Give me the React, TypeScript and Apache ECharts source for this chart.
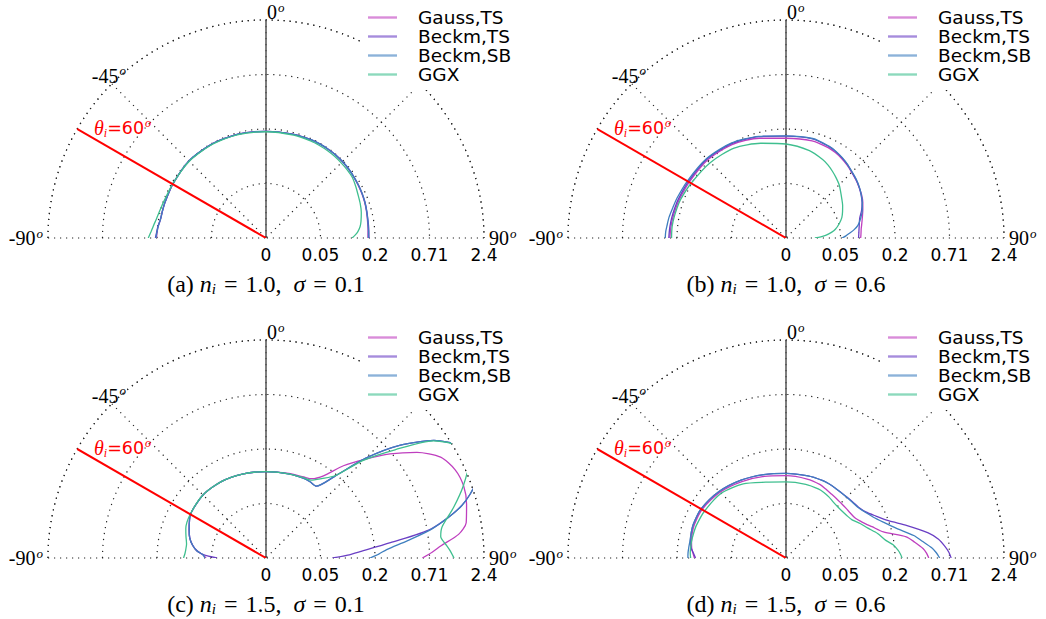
import React, { useEffect, useRef } from 'react';
import * as echarts from 'echarts';

// outgoing angle samples (degrees), shared by every panel
const ANGLES = [-90, -87, -84, -80, -75, -70, -60, -45, -30, -15, 0, 15, 25, 30, 35, 40, 45, 50, 55, 60, 65, 70, 75, 80, 83, 86, 88, 90];

const SERIES_NAMES = ['Gauss,TS', 'Beckm,TS', 'Beckm,SB', 'GGX'];
const COLORS = ['#bf3fbf', '#6a3fc4', '#3f7fbf', '#3fbf8f'];

// radial rings (plot units 0..4) and their labels
const RADIAL_TICKS = ['0', '0.05', '0.2', '0.71', '2.4'];
const INCIDENT_ANGLE = -60;
const INCIDENT_R = 4.62;

// radii, in ring units (ring k = RADIAL_TICKS[k])
// (a) n_i = 1.0, sigma = 0.1
const A_GAUSS = [2.01, 2.0, 1.99, 1.965, 1.962, 1.964, 1.975, 1.998, 1.99, 1.974, 1.955, 1.968, 1.982, 1.986, 1.987, 1.986, 1.98, 1.972, 1.96, 1.95, 1.938, 1.925, 1.908, 1.89, 1.882, 1.876, 1.872, 1.87];
const A_BECKM_TS = [2.03, 2.01, 1.995, 1.968, 1.965, 1.966, 1.976, 2.0, 1.99, 1.975, 1.957, 1.97, 1.985, 1.99, 1.99, 1.99, 1.985, 1.977, 1.965, 1.955, 1.945, 1.932, 1.915, 1.9, 1.895, 1.892, 1.89, 1.89];
const A_BECKM_SB = [2.02, 2.005, 1.99, 1.966, 1.964, 1.965, 1.976, 2.0, 1.99, 1.975, 1.957, 1.97, 1.985, 1.99, 1.99, 1.99, 1.985, 1.977, 1.965, 1.955, 1.944, 1.93, 1.912, 1.896, 1.889, 1.884, 1.881, 1.88];
const A_GGX = [2.16, 2.115, 2.08, 2.04, 2.01, 1.99, 1.98, 1.99, 1.98, 1.965, 1.95, 1.955, 1.96, 1.96, 1.96, 1.957, 1.95, 1.945, 1.935, 1.9, 1.865, 1.84, 1.81, 1.77, 1.74, 1.69, 1.64, 1.58];

// (b) n_i = 1.0, sigma = 0.6
const B_GAUSS = [2.13, 2.125, 2.12, 2.11, 2.095, 2.08, 2.05, 2.03, 1.98, 1.895, 1.83, 1.845, 1.83, 1.81, 1.78, 1.745, 1.705, 1.67, 1.635, 1.6, 1.555, 1.5, 1.45, 1.41, 1.39, 1.38, 1.375, 1.37];
const B_BECKM_TS = [2.15, 2.145, 2.14, 2.13, 2.115, 2.1, 2.07, 2.05, 2.0, 1.925, 1.87, 1.885, 1.855, 1.83, 1.795, 1.755, 1.71, 1.675, 1.635, 1.59, 1.54, 1.475, 1.4, 1.365, 1.35, 1.34, 1.335, 1.33];
const B_BECKM_SB = [2.216, 2.21, 2.195, 2.18, 2.15, 2.13, 2.09, 2.06, 2.01, 1.93, 1.875, 1.89, 1.86, 1.835, 1.8, 1.76, 1.715, 1.68, 1.64, 1.595, 1.545, 1.49, 1.42, 1.34, 1.26, 1.16, 1.1, 1.03];
const B_GGX = [2.1, 2.1, 2.1, 2.09, 2.075, 2.06, 2.01, 1.96, 1.905, 1.8, 1.725, 1.66, 1.59, 1.545, 1.49, 1.435, 1.38, 1.31, 1.25, 1.2, 1.145, 1.09, 1.01, 0.92, 0.84, 0.74, 0.64, 0.53];

// (c) n_i = 1.5, sigma = 0.1
const C_GAUSS = [1.1, 1.16, 1.28, 1.37, 1.45, 1.5, 1.6, 1.635, 1.625, 1.6, 1.585, 1.605, 1.64, 1.68, 1.84, 2.21, 2.56, 2.97, 3.38, 3.7, 3.83, 3.86, 3.81, 3.73, 3.56, 3.22, 3.05, 2.87];
const C_BECKM_TS = [0.9, 1.15, 1.27, 1.37, 1.45, 1.5, 1.6, 1.635, 1.625, 1.6, 1.585, 1.6, 1.615, 1.615, 1.61, 1.95, 2.59, 3.22, 3.76, 4.12, 4.23, 4.08, 3.72, 3.08, 2.3, 1.75, 1.5, 1.22];
const C_BECKM_SB = [1.12, 1.16, 1.28, 1.37, 1.45, 1.5, 1.6, 1.635, 1.625, 1.6, 1.585, 1.6, 1.615, 1.615, 1.61, 1.95, 2.59, 3.22, 3.76, 4.12, 4.23, 4.08, 3.72, 3.1, 2.62, 2.22, 2.07, 1.91];
const C_GGX = [1.513, 1.49, 1.48, 1.48, 1.52, 1.566, 1.605, 1.635, 1.625, 1.6, 1.585, 1.6, 1.625, 1.65, 1.78, 1.97, 2.54, 3.09, 3.75, 4.1, 4.1, 3.85, 3.56, 3.28, 3.23, 3.32, 3.39, 3.45];

// (d) n_i = 1.5, sigma = 0.6
const D_GAUSS = [1.68, 1.71, 1.74, 1.76, 1.78, 1.79, 1.78, 1.71, 1.62, 1.55, 1.51, 1.5, 1.485, 1.46, 1.44, 1.43, 1.425, 1.43, 1.44, 1.465, 1.55, 1.68, 1.85, 2.24, 2.38, 2.52, 2.58, 2.62];
const D_BECKM_TS = [1.66, 1.7, 1.75, 1.78, 1.8, 1.81, 1.8, 1.73, 1.65, 1.585, 1.553, 1.56, 1.572, 1.573, 1.57, 1.57, 1.58, 1.598, 1.625, 1.69, 1.82, 2.0, 2.3, 2.65, 2.82, 2.93, 2.99, 3.03];
const D_BECKM_SB = [1.8, 1.8, 1.795, 1.79, 1.8, 1.81, 1.8, 1.73, 1.65, 1.585, 1.553, 1.56, 1.572, 1.573, 1.57, 1.568, 1.575, 1.59, 1.615, 1.68, 1.77, 1.91, 2.1, 2.38, 2.52, 2.68, 2.76, 2.82];
const D_GGX = [1.75, 1.76, 1.76, 1.76, 1.755, 1.75, 1.725, 1.68, 1.57, 1.44, 1.396, 1.4, 1.4, 1.39, 1.37, 1.345, 1.335, 1.34, 1.36, 1.4, 1.5, 1.6, 1.74, 1.86, 1.98, 2.06, 2.1, 2.13];

const CAPTIONS = [
  { tag: 'a', n: '1.0', s: '0.1' },
  { tag: 'b', n: '1.0', s: '0.6' },
  { tag: 'c', n: '1.5', s: '0.1' },
  { tag: 'd', n: '1.5', s: '0.6' },
];

const R = 218;
const PANELS = [
  { cx: 266, cy: 238, values: [A_GAUSS, A_BECKM_TS, A_BECKM_SB, A_GGX] },
  { cx: 786, cy: 238, values: [B_GAUSS, B_BECKM_TS, B_BECKM_SB, B_GGX] },
  { cx: 266, cy: 558, values: [C_GAUSS, C_BECKM_TS, C_BECKM_SB, C_GGX] },
  { cx: 786, cy: 558, values: [D_GAUSS, D_BECKM_TS, D_BECKM_SB, D_GGX] },
];

const dotted = { color: '#222', width: 1.2, type: [1.2, 4.8] as number[] };

const SERIF = '"Liberation Serif", "DejaVu Serif", serif';
const SANS = '"DejaVu Sans", sans-serif';

function buildOption() {
  const series: any[] = [];
  const graphics: any[] = [];
  PANELS.forEach((p, i) => {
    // vertical 0-degree line
    series.push({
      type: 'line', coordinateSystem: 'polar', polarIndex: i,
      data: [[0, 0], [4, 0]], symbol: 'none', silent: true, clip: false,
      lineStyle: { color: '#555', width: 1.5 }, z: 2,
    });
    SERIES_NAMES.forEach((name, k) => {
      series.push({
        type: 'line', name, coordinateSystem: 'polar', polarIndex: i,
        data: ANGLES.map((a, j) => [p.values[k][j], a]),
        symbol: 'none', showSymbol: false, smooth: 0.25, clip: false,
        lineStyle: { color: COLORS[k], width: 1.3 },
        itemStyle: { color: COLORS[k] }, z: 3,
      });
    });
    // incident direction
    series.push({
      type: 'line', coordinateSystem: 'polar', polarIndex: i,
      data: [[0, INCIDENT_ANGLE], [INCIDENT_R, INCIDENT_ANGLE]], symbol: 'none', silent: true, clip: false,
      lineStyle: { color: '#ff0000', width: 2 }, z: 4,
    });

    const angRich = {
      n: { fontFamily: SERIF, fontSize: 20, fill: '#000' },
      s: { fontFamily: SERIF, fontStyle: 'italic', fontSize: 13, fill: '#000', padding: [0, 0, 10, 1] },
    };
    const d45 = R * Math.SQRT1_2;
    const angleLabels = [
      { text: '{n|0}{s|o}', x: p.cx + 1, y: p.cy - R - 8, align: 'left' },
      { text: '{n|-45}{s|o}', x: p.cx - d45 - 3, y: p.cy - d45 - 8, align: 'center' },
      { text: '{n|-90}{s|o}', x: p.cx - R - 5, y: p.cy, align: 'right' },
      { text: '{n|90}{s|o}', x: p.cx + R + 5, y: p.cy, align: 'left' },
    ];
    angleLabels.forEach((l) => {
      graphics.push({
        type: 'text', x: l.x, y: l.y, z: 10,
        style: { text: l.text, align: l.align, verticalAlign: 'middle', rich: angRich, fill: '#000' },
      });
    });
    graphics.push({
      type: 'text', x: p.cx - 172, y: p.cy - 110, z: 10,
      style: {
        text: '{th|θ}{sub|i}{t|=60}{s|o}', align: 'left', verticalAlign: 'middle', fill: '#ff0000',
        rich: {
          th: { fontFamily: SERIF, fontStyle: 'italic', fontSize: 20, fill: '#ff0000' },
          sub: { fontFamily: SERIF, fontStyle: 'italic', fontSize: 12, fill: '#ff0000', padding: [9, 0, 0, 0] },
          t: { fontFamily: SANS, fontSize: 17.5, fill: '#ff0000' },
          s: { fontFamily: SERIF, fontStyle: 'italic', fontSize: 12, fill: '#ff0000', padding: [0, 0, 10, 1] },
        },
      },
    });
    const c = CAPTIONS[i];
    graphics.push({
      type: 'text', x: p.cx, y: p.cy + 46, z: 10,
      style: {
        text: `{r|(${c.tag}) }{m|n}{sub|i}{e|=}{r|${c.n},  }{m|σ}{e|=}{r|${c.s}}`,
        align: 'center', verticalAlign: 'middle', fill: '#000',
        rich: {
          r: { fontFamily: SERIF, fontSize: 24, fill: '#000' },
          e: { fontFamily: SERIF, fontSize: 24, fill: '#000', padding: [0, 8, 0, 8] },
          m: { fontFamily: SERIF, fontStyle: 'italic', fontSize: 24, fill: '#000' },
          sub: { fontFamily: SERIF, fontStyle: 'italic', fontSize: 15, fill: '#000', padding: [10, 0, 0, 0] },
        },
      },
    });
  });

  return {
    animation: false,
    backgroundColor: '#fff',
    polar: PANELS.map((p) => ({ center: [p.cx, p.cy], radius: R })),
    angleAxis: PANELS.map((p, i) => ({
      polarIndex: i, type: 'value', min: -90, max: 90, interval: 45,
      startAngle: 180, endAngle: 0, clockwise: true,
      axisLine: { show: true, lineStyle: dotted },
      axisTick: { show: false }, axisLabel: { show: false },
      splitLine: { show: true, lineStyle: dotted },
    })),
    radiusAxis: PANELS.map((p, i) => ({
      polarIndex: i, type: 'value', min: 0, max: 4, interval: 1,
      axisLine: { show: false }, axisTick: { show: false }, axisLabel: { show: false },
      splitLine: { show: true, lineStyle: dotted },
    })),
    grid: PANELS.map((p) => ({ left: p.cx, top: p.cy - 20, width: R, height: 20, containLabel: false })),
    xAxis: PANELS.map((p, i) => ({
      gridIndex: i, type: 'value', min: 0, max: 4, interval: 1,
      axisLine: { show: false }, axisTick: { show: false }, splitLine: { show: false },
      axisLabel: {
        formatter: (v: number) => RADIAL_TICKS[Math.round(v)],
        margin: 8, fontSize: 17, fontFamily: SANS, color: '#000',
        showMinLabel: true, showMaxLabel: true,
      },
    })),
    yAxis: PANELS.map((p, i) => ({ gridIndex: i, type: 'value', show: false })),
    legend: PANELS.map((p) => ({
      data: SERIES_NAMES, orient: 'vertical', left: p.cx + 94, top: p.cy - 236,
      backgroundColor: '#fff', padding: [6, 8, 6, 8], itemWidth: 29, itemHeight: 2.4, itemGap: 0,
      icon: 'rect', selectedMode: false,
      itemStyle: { opacity: 0.6 },
      formatter: (name: string) => `{t|${name}}`,
      textStyle: {
        fontSize: 18.5, fontFamily: SANS, color: '#000', lineHeight: 19,
        rich: { t: { fontSize: 18.5, fontFamily: SANS, color: '#000', lineHeight: 19, padding: [0, 0, 0, 16] } },
      },
    })),
    graphic: graphics,
    series,
  };
}

export default function App() {
  const ref = useRef<HTMLDivElement>(null);
  useEffect(() => {
    document.body.style.margin = '0';
    if (!ref.current) return;
    const chart = echarts.init(ref.current, undefined, { renderer: 'svg' });
    chart.setOption(buildOption() as any);
    return () => chart.dispose();
  }, []);
  return <div ref={ref} style={{ width: 1046, height: 619 }} />;
}
